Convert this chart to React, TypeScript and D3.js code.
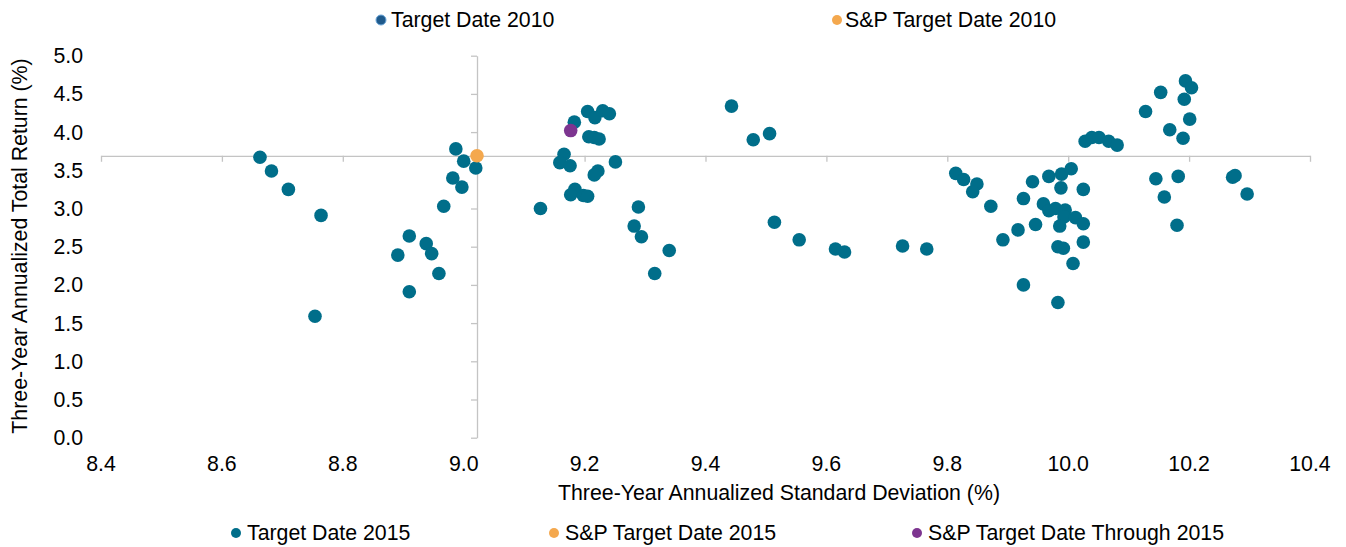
import * as d3 from "d3";
import { useRef, useEffect } from "react";

// Target Date 2015 funds: three-year std dev (%) and total return (%)
const stdDev2015 = [
  8.663, 8.682, 8.71, 8.764, 8.754, 8.91, 8.891, 8.938, 8.947, 8.959, 8.91, 8.967, 8.982, 8.997, 8.987, 9.0, 9.02,
  9.127, 9.205, 9.217, 9.23, 9.241, 9.183, 9.207, 9.216, 9.224, 9.166, 9.159, 9.176, 9.251, 9.222, 9.216, 9.184,
  9.177, 9.198, 9.205, 9.289, 9.282, 9.294, 9.34, 9.316, 9.443, 9.479, 9.506, 9.514, 9.555, 9.615, 9.63, 9.726,
  9.766, 9.814, 9.827, 9.849, 9.842, 9.872, 9.892, 9.917, 9.926, 9.941, 9.946, 9.926, 9.959, 9.968, 9.968, 9.979,
  9.989, 10.005, 9.988, 9.995, 9.993, 10.012, 10.025, 9.986, 10.025, 9.983, 9.992, 10.025, 10.008, 9.983, 10.028,
  10.039, 10.051, 10.067, 10.081, 10.194, 10.204, 10.153, 10.192, 10.128, 10.201, 10.168, 10.19, 10.182, 10.145,
  10.159, 10.18, 10.272, 10.276, 10.296,
];
const return2015 = [
  3.67, 3.49, 3.25, 2.91, 1.59, 2.64, 2.39, 2.54, 2.41, 2.15, 1.91, 3.03, 3.4, 3.28, 3.78, 3.62, 3.53,
  3.0, 4.27, 4.19, 4.28, 4.24, 4.13, 3.94, 3.93, 3.91, 3.71, 3.6, 3.56, 3.61, 3.49, 3.44, 3.25,
  3.18, 3.17, 3.16, 3.02, 2.77, 2.63, 2.45, 2.15, 4.34, 3.9, 3.98, 2.82, 2.59, 2.47, 2.43, 2.51,
  2.47, 3.46, 3.38, 3.32, 3.22, 3.03, 2.59, 2.72, 3.13, 3.35, 2.79, 2.0, 3.06, 3.42, 2.97, 3.0,
  3.45, 3.52, 3.27, 2.98, 2.89, 2.88, 2.8, 2.77, 3.25, 2.5, 2.48, 2.56, 2.28, 1.77, 3.88,
  3.93, 3.93, 3.88, 3.83, 4.67, 4.58, 4.52, 4.43, 4.27, 4.17, 4.03, 3.92, 3.42, 3.39,
  3.15, 2.78, 3.41, 3.43, 3.19,
];
// benchmarks [std dev, return]
const spTargetDate2015 = [9.022, 3.69];
const spThrough2015 = [9.177, 4.02];

const xTicks = [8.4, 8.6, 8.8, 9.0, 9.2, 9.4, 9.6, 9.8, 10.0, 10.2, 10.4];
const yTicks = [0, 0.5, 1, 1.5, 2, 2.5, 3, 3.5, 4, 4.5, 5];

const topLegend = ["Target Date 2010", "S&P Target Date 2010"];
const bottomLegend = ["Target Date 2015", "S&P Target Date 2015", "S&P Target Date Through 2015"];

const TEAL = "#006e8a";
const ORANGE = "#f4a84e";
const PURPLE = "#7d3590";
const AXIS = "#c4c4c4";
const FONT = "'Liberation Sans', Arial, sans-serif";

export default function App() {
  const width = 1346;
  const height = 547;
  const x = d3.scaleLinear().domain([8.4, 10.4]).range([101, 1310]);
  const y = d3.scaleLinear().domain([0, 5]).range([437.7, 55.7]);
  const gx = useRef<SVGGElement>(null);
  const gy = useRef<SVGGElement>(null);

  // axes cross at the S&P Target Date 2015 point
  const crossX = spTargetDate2015[0];
  const crossY = spTargetDate2015[1];

  useEffect(() => {
    const ax = d3.select(gx.current!).call(
      d3.axisBottom(x).tickValues(xTicks).tickSize(6).tickSizeOuter(0).tickFormat(() => "")
    );
    const ay = d3.select(gy.current!).call(
      d3.axisLeft(y).tickValues(yTicks).tickSize(6).tickSizeOuter(0).tickFormat(() => "")
    );
    [ax, ay].forEach((g) => {
      g.selectAll("path, line").attr("stroke", AXIS).attr("stroke-width", 1.3);
    });
  }, []);

  const pts = stdDev2015.map((d, i) => [d, return2015[i]]);

  return (
    <svg width={width} height={height} style={{ position: "absolute", left: 0, top: 0 }} fontFamily={FONT}>
      <rect width={width} height={height} fill="#fff" />
      <g ref={gx} transform={`translate(0,${y(crossY)})`} />
      <g ref={gy} transform={`translate(${x(crossX)},0)`} />

      <g fontSize={21.3} fill="#000">
        {xTicks.map((t) => (
          <text key={t} x={x(t)} y={471} textAnchor="middle">{t.toFixed(1)}</text>
        ))}
        {yTicks.map((t) => (
          <text key={t} x={83} y={y(t)} dy="0.35em" textAnchor="end">{t.toFixed(1)}</text>
        ))}
        <text x={779} y={500} textAnchor="middle">Three-Year Annualized Standard Deviation (%)</text>
        <text transform={`translate(27,246) rotate(-90)`} textAnchor="middle">Three-Year Annualized Total Return (%)</text>
      </g>

      <g fill={TEAL}>
        {pts.map((p, i) => (
          <circle key={i} cx={x(p[0])} cy={y(p[1])} r={6.8} />
        ))}
      </g>
      <circle cx={x(spThrough2015[0])} cy={y(spThrough2015[1])} r={6.8} fill={PURPLE} />
      <circle cx={x(spTargetDate2015[0])} cy={y(spTargetDate2015[1])} r={6.8} fill={ORANGE} />

      {/* legends */}
      <g fontSize={21.3} fill="#000">
        <circle cx={381} cy={20} r={5} fill="#1f5a8c" stroke="#6aa5d8" strokeWidth={1} />
        <text x={391} y={20} dy="0.35em">{topLegend[0]}</text>
        <circle cx={837} cy={20} r={5} fill={ORANGE} />
        <text x={845} y={20} dy="0.35em">{topLegend[1]}</text>

        <circle cx={236} cy={533} r={5} fill={TEAL} />
        <text x={247} y={533} dy="0.35em">{bottomLegend[0]}</text>
        <circle cx={554} cy={533} r={5} fill={ORANGE} />
        <text x={565} y={533} dy="0.35em">{bottomLegend[1]}</text>
        <circle cx={917} cy={533} r={5} fill={PURPLE} />
        <text x={928} y={533} dy="0.35em">{bottomLegend[2]}</text>
      </g>
    </svg>
  );
}
